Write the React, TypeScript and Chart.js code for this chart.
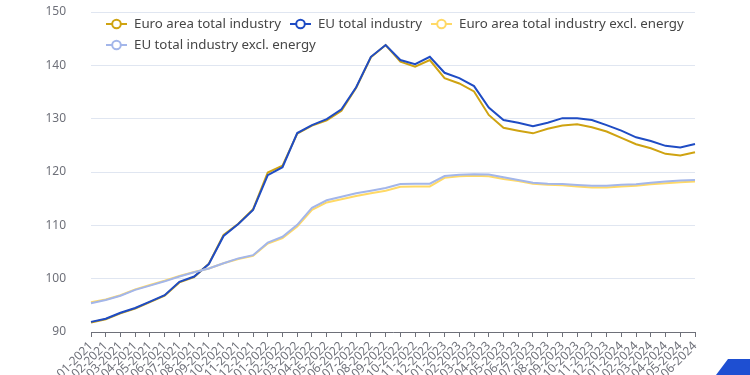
import React, { useEffect, useRef } from "react";
import { Chart, registerables } from "chart.js";

Chart.register(...registerables);

const labels = [
  "01-2021", "02-2021", "03-2021", "04-2021", "05-2021", "06-2021", "07-2021", "08-2021", "09-2021", "10-2021", "11-2021", "12-2021",
  "01-2022", "02-2022", "03-2022", "04-2022", "05-2022", "06-2022", "07-2022", "08-2022", "09-2022", "10-2022", "11-2022", "12-2022",
  "01-2023", "02-2023", "03-2023", "04-2023", "05-2023", "06-2023", "07-2023", "08-2023", "09-2023", "10-2023", "11-2023", "12-2023",
  "01-2024", "02-2024", "03-2024", "04-2024", "05-2024", "06-2024",
];

const euroAreaTotal = [
  91.8, 92.4, 93.5, 94.4, 95.6, 96.8, 99.3, 100.3, 102.8, 108.2, 110.3, 113.0,
  119.9, 121.2, 127.2, 128.7, 129.7, 131.5, 135.8, 141.5, 143.8, 140.7, 139.75, 141.0,
  137.6, 136.6, 135.1, 130.7, 128.3, 127.75, 127.25, 128.1, 128.7, 128.95, 128.4, 127.6,
  126.4, 125.2, 124.45, 123.4, 123.1, 123.7,
];

const euTotal = [
  91.9, 92.5, 93.6, 94.5, 95.7, 96.9, 99.4, 100.4, 102.75, 108.0, 110.25, 112.9,
  119.4, 120.9, 127.3, 128.8, 129.9, 131.75, 135.9, 141.6, 143.8, 141.0, 140.2, 141.6,
  138.6, 137.6, 136.1, 132.1, 129.75, 129.25, 128.6, 129.25, 130.1, 130.1, 129.75, 128.8,
  127.75, 126.5, 125.8, 124.9, 124.6, 125.25,
];

const euroAreaExclEnergy = [
  95.6, 96.1, 96.9, 98.0, 98.8, 99.6, 100.5, 101.25, 101.9, 102.9, 103.7, 104.3,
  106.6, 107.6, 109.8, 112.9, 114.3, 114.9, 115.5, 116.0, 116.5, 117.25, 117.3, 117.3,
  118.9, 119.2, 119.3, 119.2, 118.7, 118.3, 117.8, 117.6, 117.5, 117.3, 117.1, 117.1,
  117.3, 117.4, 117.7, 117.9, 118.1, 118.2,
];

const euExclEnergy = [
  95.4, 96.0, 96.8, 97.9, 98.7, 99.5, 100.4, 101.2, 101.9, 102.9, 103.8, 104.4,
  106.75, 107.85, 110.1, 113.3, 114.7, 115.35, 116.0, 116.5, 117.0, 117.75, 117.8, 117.8,
  119.25, 119.5, 119.6, 119.55, 119.0, 118.5, 118.0, 117.8, 117.75, 117.55, 117.4, 117.4,
  117.6, 117.7, 118.0, 118.2, 118.4, 118.5,
];

const seriesNames = [
  "Euro area total industry",
  "EU total industry",
  "Euro area total industry excl. energy",
  "EU total industry excl. energy",
];
const seriesColors = ["#cfa311", "#1f4cc4", "#ffd966", "#a3b6ea"];
const seriesValues = [euroAreaTotal, euTotal, euroAreaExclEnergy, euExclEnergy];

const yMin = 90;
const yMax = 150;
const yStep = 10;

const FONT = "'Noto Sans', 'Liberation Sans', sans-serif";

function LegendIcon({ color }: { color: string }) {
  return (
    <svg width="22" height="12" style={{ display: "block", marginRight: 6, flex: "none" }}>
      <line x1="0" y1="6" x2="21" y2="6" stroke={color} strokeWidth="2" />
      <circle cx="10.5" cy="6" r="4.3" fill="#fff" stroke={color} strokeWidth="2" />
    </svg>
  );
}

function LegendItem({ idx }: { idx: number }) {
  return (
    <div style={{ display: "flex", alignItems: "center", marginRight: 9 }}>
      <LegendIcon color={seriesColors[idx]} />
      <span style={{ whiteSpace: "nowrap" }}>{seriesNames[idx]}</span>
    </div>
  );
}

export default function App() {
  const canvasRef = useRef<HTMLCanvasElement | null>(null);

  useEffect(() => {
    const canvas = canvasRef.current;
    if (!canvas) return;
    const chart = new Chart(canvas, {
      type: "line",
      data: {
        labels,
        datasets: seriesValues.map((vals, i) => ({
          label: seriesNames[i],
          data: vals,
          borderColor: seriesColors[i],
          backgroundColor: seriesColors[i],
          borderWidth: 2,
          pointRadius: 0,
          pointHoverRadius: 0,
          tension: 0,
          fill: false,
          order: 4 - i,
        })),
      },
      options: {
        animation: false,
        responsive: false,
        devicePixelRatio: 1,
        layout: { padding: { left: 0, right: 55, top: 12, bottom: 0 } },
        plugins: {
          legend: { display: false },
          tooltip: { enabled: false },
        },
        scales: {
          x: {
            type: "category",
            offset: false,
            grid: {
              drawOnChartArea: false,
              drawTicks: true,
              tickLength: 5,
              color: "#6e7079",
            },
            border: { display: true, color: "#6e7079", width: 1 },
            ticks: {
              autoSkip: false,
              minRotation: 45,
              maxRotation: 45,
              padding: 2,
              color: "#6e7079",
              font: { family: FONT, size: 12 },
            },
            afterFit: (scale: any) => {
              scale.height = 108;
            },
          },
          y: {
            min: yMin,
            max: yMax,
            grid: { color: "#e0e6f1", drawTicks: false, lineWidth: 1 },
            border: { display: false },
            ticks: {
              stepSize: yStep,
              padding: 25,
              color: "#6e7079",
              font: { family: FONT, size: 12 },
            },
            afterFit: (scale: any) => {
              scale.width = 91;
              scale.paddingTop = 0;
              scale.paddingBottom = 0;
            },
          },
        },
      },
    });
    return () => chart.destroy();
  }, []);

  return (
    <div
      style={{
        position: "fixed",
        left: 0,
        top: 0,
        width: 750,
        height: 375,
        overflow: "hidden",
        background: "#fff",
        fontFamily: FONT,
      }}
    >
      <canvas ref={canvasRef} width={750} height={440} style={{ display: "block", width: 750, height: 440 }} />
      <div
        style={{
          position: "absolute",
          left: 106,
          top: 13,
          fontSize: 13.3,
          color: "#464646",
          lineHeight: "21px",
        }}
      >
        <div style={{ display: "flex", height: 21 }}>
          <LegendItem idx={0} />
          <LegendItem idx={1} />
          <LegendItem idx={2} />
        </div>
        <div style={{ display: "flex", height: 21 }}>
          <LegendItem idx={3} />
        </div>
      </div>
      <div
        style={{
          position: "absolute",
          left: 716,
          top: 359,
          width: 34,
          height: 16,
          background: "#1e4fd2",
          clipPath: "polygon(12px 0, 100% 0, 100% 100%, 0 100%)",
        }}
      />
    </div>
  );
}
